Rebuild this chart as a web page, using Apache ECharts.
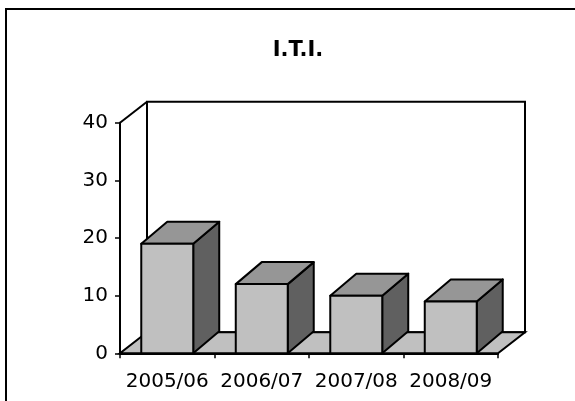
<!DOCTYPE html>
<html>
<head>
<meta charset="utf-8">
<script src="https://cdn.jsdelivr.net/npm/echarts@6/dist/echarts.min.js"></script>
<style>html,body{margin:0;padding:0;background:#fff;}#c{width:575px;height:401px;}</style>
</head>
<body>
<div id="c"></div>
<script>
const title = 'I.T.I.';
const categories = ['2005/06', '2006/07', '2007/08', '2008/09'];
const values = [19, 12, 10, 9];
const yMin = 0, yMax = 40, yStep = 10;

const FONT = 'DejaVu Sans';
const FRAME_D = [27, -21];
const BAR_D = [26, -22];
const BAR_FRAC = 0.55;

function renderFrame(params, api) {
  const cs = params.coordSys;
  const x0 = cs.x, x1 = cs.x + cs.width, yT = cs.y, yB = cs.y + cs.height;
  const [dx, dy] = FRAME_D;
  const st = { stroke: '#000', lineWidth: 2, fill: null };
  return {
    type: 'group',
    children: [
      { type: 'polygon', shape: { points: [[x0+dx, yB+dy], [x0+dx, yT+dy], [x1+dx, yT+dy], [x1+dx, yB+dy]] },
        style: { fill: '#fff', stroke: '#000', lineWidth: 2 } },
      { type: 'polygon', shape: { points: [[x0, yB], [x1, yB], [x1+dx, yB+dy], [x0+dx, yB+dy]] },
        style: { fill: '#C0C0C0', stroke: '#000', lineWidth: 2 } },
      { type: 'line', shape: { x1: x0, y1: yT, x2: x0+dx, y2: yT+dy }, style: st }
    ]
  };
}

function renderBar(params, api) {
  const cat = api.value(0), v = api.value(1);
  const base = api.coord([cat, 0]);
  const top = api.coord([cat, v]);
  const bw = api.size([1, 0])[0];
  const w = bw * BAR_FRAC;
  const x0 = base[0] - w / 2, x1 = x0 + w;
  const yt = top[1], yb = base[1];
  const [dx, dy] = BAR_D;
  const s = (fill) => ({ fill, stroke: '#000', lineWidth: 2, lineJoin: 'round' });
  return {
    type: 'group',
    children: [
      { type: 'polygon', shape: { points: [[x1, yt], [x1+dx, yt+dy], [x1+dx, yb+dy], [x1, yb]] }, style: s('#606060') },
      { type: 'polygon', shape: { points: [[x0, yt], [x1, yt], [x1+dx, yt+dy], [x0+dx, yt+dy]] }, style: s('#969696') },
      { type: 'rect', shape: { x: x0, y: yt, width: w, height: yb - yt }, style: s('#C0C0C0') }
    ]
  };
}

const chart = echarts.init(document.getElementById('c'), null, { renderer: 'canvas' });
chart.setOption({
  animation: false,
  backgroundColor: '#fff',
  title: {
    text: title, left: 293, top: 35, textAlign: 'center',
    textStyle: { fontFamily: FONT, fontWeight: 'bold', fontSize: 21, color: '#000' }
  },
  graphic: [
    { type: 'rect', shape: { x: 6, y: 9, width: 620, height: 500 }, style: { fill: null, stroke: '#000', lineWidth: 2 }, z: 100 }
  ],
  grid: { left: 120, right: 77, top: 122.7, bottom: 47.7 },
  xAxis: {
    type: 'category', data: categories, boundaryGap: true,
    axisLine: { show: true, lineStyle: { color: '#000', width: 2 } },
    axisTick: { show: true, length: 5, lineStyle: { color: '#000', width: 1.5 } },
    axisLabel: { color: '#000', fontFamily: FONT, fontSize: 20, margin: 18, interval: 0 },
    splitLine: { show: false }, z: 10
  },
  yAxis: {
    type: 'value', min: yMin, max: yMax, interval: yStep,
    axisLine: { show: true, lineStyle: { color: '#000', width: 2 } },
    axisTick: { show: true, length: 5, lineStyle: { color: '#000', width: 1.5 } },
    axisLabel: { color: '#000', fontFamily: FONT, fontSize: 20, margin: 12 },
    splitLine: { show: false }, z: 10
  },
  series: [
    { type: 'custom', renderItem: renderFrame, data: [[0, 0]], z: 1, silent: true },
    { type: 'custom', renderItem: renderBar, data: values.map((v, i) => [i, v]), z: 2,
      encode: { x: 0, y: 1 } }
  ]
});
</script>
</body>
</html>
